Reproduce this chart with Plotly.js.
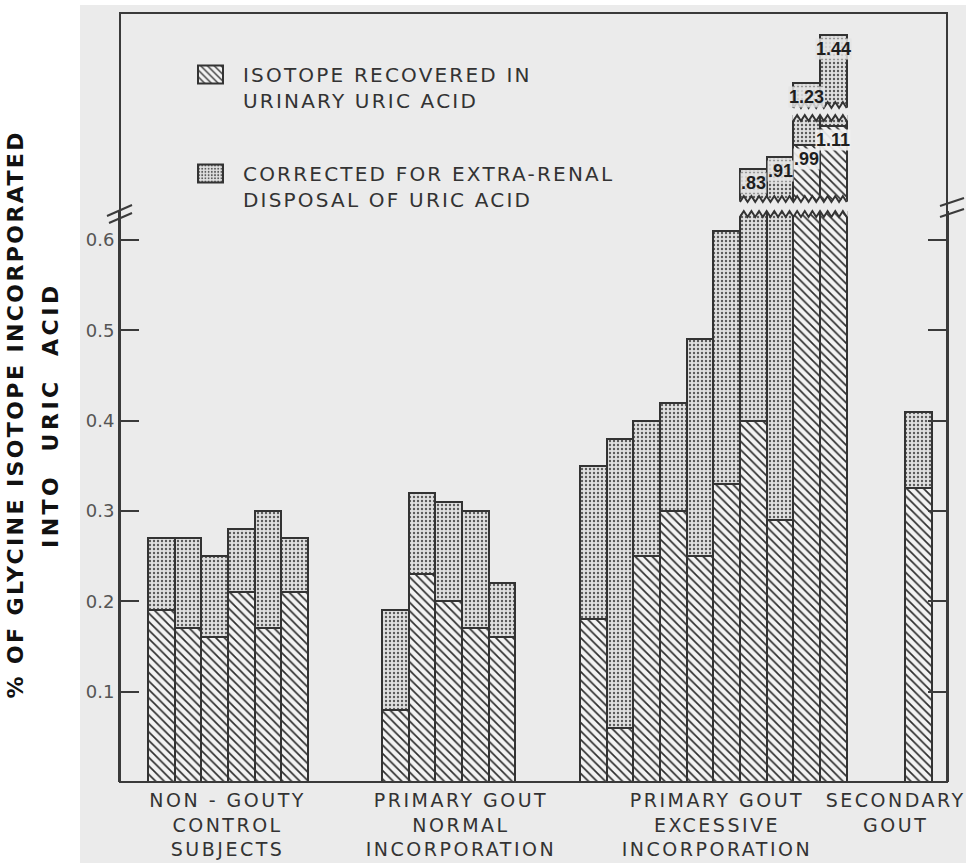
<!DOCTYPE html>
<html>
<head>
<meta charset="utf-8">
<script src="https://cdn.plot.ly/plotly-3.0.1.min.js"></script>
<style>
html,body{margin:0;padding:0;background:#ffffff;}
#chart{width:966px;height:863px;}
</style>
</head>
<body>
<div id="chart"></div>
<script>
// ---------------- DATA ----------------
const groupLabels = [
  "NON - GOUTY<br>CONTROL<br>SUBJECTS",
  "PRIMARY GOUT<br>NORMAL<br>INCORPORATION",
  "PRIMARY GOUT<br>EXCESSIVE<br>INCORPORATION",
  "SECONDARY<br>GOUT"
];
// total % incorporated (corrected for extra-renal disposal)
const controlTotal   = [0.27, 0.27, 0.25, 0.28, 0.30, 0.27];
const normalTotal    = [0.19, 0.32, 0.31, 0.30, 0.22];
const excessiveTotal = [0.35, 0.38, 0.40, 0.42, 0.49, 0.61, 0.83, 0.91, 1.23, 1.44];
const secondaryTotal = [0.41];
// isotope recovered in urinary uric acid
const controlUrinary   = [0.19, 0.17, 0.16, 0.21, 0.17, 0.21];
const normalUrinary    = [0.08, 0.23, 0.20, 0.17, 0.16];
const excessiveUrinary = [0.18, 0.06, 0.25, 0.30, 0.25, 0.33, 0.40, 0.29, 0.99, 1.11];
const secondaryUrinary = [0.325];

const seriesNames = ["ISOTOPE RECOVERED IN<br>URINARY URIC ACID",
                     "CORRECTED FOR EXTRA-RENAL<br>DISPOSAL OF URIC ACID"];
const yTickVals = [0.1, 0.2, 0.3, 0.4, 0.5, 0.6];
const yTickText = ["0.1", "0.2", "0.3", "0.4", "0.5", "0.6"];
const yTitleLines = ["% OF GLYCINE ISOTOPE INCORPORATED", "INTO\u00a0 URIC\u00a0 ACID"];

// ---------------- LAYOUT HELPERS ----------------
const ML = 120, MR = 19, MT = 13, MB = 81, W = 966, H = 863;
const PW = W - ML - MR, PH = H - MT - MB;
const BASE = H - MB;
const pY = px => (BASE - px) / PH;
const pX = px => (px - ML) / PW;

const groupStarts = [1.05, 9.82, 17.24, 29.42];
const labelShiftPx = [0, 12, 4, -22];
const totals = [controlTotal, normalTotal, excessiveTotal, secondaryTotal];
const urinary = [controlUrinary, normalUrinary, excessiveUrinary, secondaryUrinary];

const xs = [], tot = [], uri = [], groupCenters = [];
totals.forEach((arr, g) => {
  arr.forEach((v, i) => {
    xs.push(groupStarts[g] + i + 0.5);
    tot.push(v);
    uri.push(urinary[g][i]);
  });
  groupCenters.push(groupStarts[g] + arr.length / 2);
});
const extra = tot.map((v, i) => +(v - uri[i]).toFixed(4));

// axis segments (broken axis)
const lowTopPx = 211, seg2BotPx = 202, seg2TopPx = 115, seg3BotPx = 108, seg3TopPx = 33;
const lowRange = [0, (BASE - lowTopPx) / 903.3];
const seg2Range = [0.62, 1.18];
const seg3Range = [1.12, 1.45];

const BG = '#ebebeb';
const INK = '#333333';
const hatch = {shape: '\\', fgcolor: '#2e2e2e', bgcolor: '#f3f3f3', size: 6, solidity: 0.28};
const stipple = {shape: '.', fgcolor: '#5a5a5a', bgcolor: '#e0e0e0', size: 4, solidity: 0.28};

function barTraces(yaxis, show) {
  return [
    {type: 'bar', x: xs, y: uri, yaxis: yaxis, width: 1, name: seriesNames[0],
     showlegend: show, legendgroup: 'a',
     marker: {color: '#f3f3f3', pattern: hatch, line: {color: INK, width: 2}},
     hoverinfo: 'skip'},
    {type: 'bar', x: xs, y: extra, yaxis: yaxis, width: 1, name: seriesNames[1],
     showlegend: show, legendgroup: 'b',
     marker: {color: '#e0e0e0', pattern: stipple, line: {color: INK, width: 2}},
     hoverinfo: 'skip'}
  ];
}
const data = [].concat(barTraces('y', true), barTraces('y2', false), barTraces('y3', false));

// ---------------- SHAPES ----------------
const shapes = [];
shapes.push({type: 'rect', xref: 'paper', yref: 'paper', x0: pX(80), x1: pX(W), y0: pY(H), y1: pY(5),
  fillcolor: BG, line: {width: 0}, layer: 'below'});
shapes.push({type: 'rect', xref: 'paper', yref: 'paper', x0: 0, x1: 1, y0: 0, y1: 1,
  line: {color: '#3a3a3a', width: 2}, fillcolor: 'rgba(0,0,0,0)', layer: 'above'});
[[107, 216, 132, 205], [109, 223, 132, 213], [940, 206, 964, 198], [940, 217, 964, 209]].forEach(s => {
  shapes.push({type: 'line', xref: 'paper', yref: 'paper', x0: pX(s[0]), y0: pY(s[1]), x1: pX(s[2]), y1: pY(s[3]),
    line: {color: '#3a3a3a', width: 2}});
});

function zigPts(x0, x1, yA, yB, period) {
  const n = Math.max(2, Math.round((x1 - x0) / (period / 2)));
  const st = (x1 - x0) / n, pts = [];
  for (let i = 0; i <= n; i++) pts.push([x0 + i * st, pY(i % 2 ? yB : yA)]);
  return pts;
}
const toPath = (pts, close) => 'M' + pts.map(p => p[0].toFixed(4) + ',' + p[1].toFixed(5)).join('L') + (close ? 'Z' : '');

function addBreak(idxs, lowA, lowB, upA, upB) {
  if (!idxs.length) return;
  const x0 = xs[idxs[0]] - 0.5, x1 = xs[idxs[idxs.length - 1]] + 0.5;
  const per = 0.29;
  const lo = zigPts(x0 - 0.04, x1 + 0.04, lowA, lowB, per);
  const up = zigPts(x0 - 0.04, x1 + 0.04, upA, upB, per);
  shapes.push({type: 'path', xref: 'x', yref: 'paper', path: toPath(lo.concat(up.slice().reverse()), true),
    fillcolor: BG, line: {width: 0}});
  shapes.push({type: 'path', xref: 'x', yref: 'paper', path: toPath(zigPts(x0, x1, lowA, lowB, per), false),
    fillcolor: 'rgba(0,0,0,0)', line: {color: INK, width: 2}});
  shapes.push({type: 'path', xref: 'x', yref: 'paper', path: toPath(zigPts(x0, x1, upA, upB, per), false),
    fillcolor: 'rgba(0,0,0,0)', line: {color: INK, width: 2}});
}
const broken1 = tot.map((v, i) => v > lowRange[1] ? i : -1).filter(i => i >= 0);
const broken2 = tot.map((v, i) => v > seg2Range[1] ? i : -1).filter(i => i >= 0);
addBreak(broken1, lowTopPx + 6, lowTopPx, seg2BotPx, seg2BotPx - 6);
addBreak(broken2, seg2TopPx + 6, seg2TopPx, seg3BotPx, seg3BotPx - 6);

// ---------------- ANNOTATIONS ----------------
const fmt = v => v < 1 ? v.toFixed(2).replace(/^0/, '') : v.toFixed(2);
const annotations = [];
const valFont = {family: 'Liberation Sans Narrow, Liberation Sans, Arial Narrow, sans-serif', size: 18, color: '#1e1e1e'};
function valLabel(yref, x, y, bg) {
  annotations.push({xref: 'x', yref: yref, x: x, y: y, yanchor: 'top', yshift: -3,
    text: '<b>' + fmt(y) + '</b>', showarrow: false, font: valFont, bgcolor: bg, borderpad: 0});
}
broken1.forEach(i => {
  if (tot[i] <= seg2Range[1]) {
    valLabel('y2', xs[i], tot[i], 'rgba(228,228,228,0.85)');
  } else {
    valLabel('y3', xs[i], tot[i], 'rgba(228,228,228,0.85)');
    if (uri[i] > lowRange[1]) valLabel('y2', xs[i], uri[i], 'rgba(240,240,240,0.92)');
  }
});
const nValAnn = annotations.length;
groupLabels.forEach((t, g) => {
  annotations.push({xref: 'x', yref: 'paper', x: groupCenters[g], xshift: labelShiftPx[g], y: pY(787), yanchor: 'top',
    text: t, showarrow: false, align: 'center',
    font: {family: 'DejaVu Sans, sans-serif', size: 19, color: '#333'}});
});
const yTitleX = [15, 50];
yTitleLines.forEach((t, k) => {
  annotations.push({xref: 'paper', yref: 'paper', x: pX(yTitleX[k]), y: pY(415), xanchor: 'center', yanchor: 'middle',
    text: '<b>' + t + '</b>', textangle: -90, showarrow: false,
    font: {family: 'DejaVu Sans, sans-serif', size: 22, color: '#111'}});
});

// ---------------- LAYOUT ----------------
const layout = {
  width: W, height: H,
  margin: {l: ML, r: MR, t: MT, b: MB, pad: 0},
  paper_bgcolor: '#ffffff', plot_bgcolor: 'rgba(0,0,0,0)',
  barmode: 'stack', bargap: 0,
  showlegend: true,
  legend: {x: pX(203), y: pY(55), xanchor: 'left', yanchor: 'top', bgcolor: 'rgba(0,0,0,0)',
    font: {family: 'DejaVu Sans, sans-serif', size: 20, color: '#333'},
    tracegroupgap: 44, traceorder: 'grouped', valign: 'top', itemclick: false},
  xaxis: {range: [0, 31], showgrid: false, zeroline: false, showticklabels: false, ticks: '',
    showline: false, fixedrange: true},
  yaxis: {domain: [0, pY(lowTopPx)], range: lowRange, showgrid: false, zeroline: false,
    tickvals: yTickVals, ticktext: yTickText, ticks: 'inside', ticklen: 19, tickwidth: 2, tickcolor: '#3a3a3a',
    showline: true, linecolor: '#3a3a3a', linewidth: 2, mirror: 'ticks',
    tickfont: {family: 'DejaVu Sans, sans-serif', size: 18, color: '#555'}, fixedrange: true},
  yaxis2: {domain: [pY(seg2BotPx), pY(seg2TopPx)], range: seg2Range, anchor: 'x', showgrid: false, zeroline: false,
    showticklabels: false, ticks: '', showline: false, fixedrange: true},
  yaxis3: {domain: [pY(seg3BotPx), pY(seg3TopPx)], range: seg3Range, anchor: 'x', showgrid: false, zeroline: false,
    showticklabels: false, ticks: '', showline: false, fixedrange: true},
  shapes: shapes,
  annotations: annotations
};

Plotly.newPlot('chart', data, layout, {staticPlot: true, displayModeBar: false}).then(gd => {
  gd.querySelectorAll('.legendtext').forEach(t => t.style.letterSpacing = '2.2px');
  gd.querySelectorAll('.legend [clip-path]').forEach(e => e.removeAttribute('clip-path'));
  gd.querySelectorAll('.annotation').forEach(a => {
    const idx = +a.getAttribute('data-index');
    const t = a.querySelector('.annotation-text');
    if (!t) return;
    if (idx >= nValAnn && idx < nValAnn + groupLabels.length) t.style.letterSpacing = '2.5px';
    else if (idx === nValAnn + groupLabels.length) t.style.letterSpacing = '2.4px';
    else if (idx === nValAnn + groupLabels.length + 1) t.style.letterSpacing = '3.5px';
  });
  gd.querySelectorAll('.legendpoints path').forEach(p => p.setAttribute('d', 'M0,9H-25V-9H0Z'));
});
</script>
</body>
</html>
